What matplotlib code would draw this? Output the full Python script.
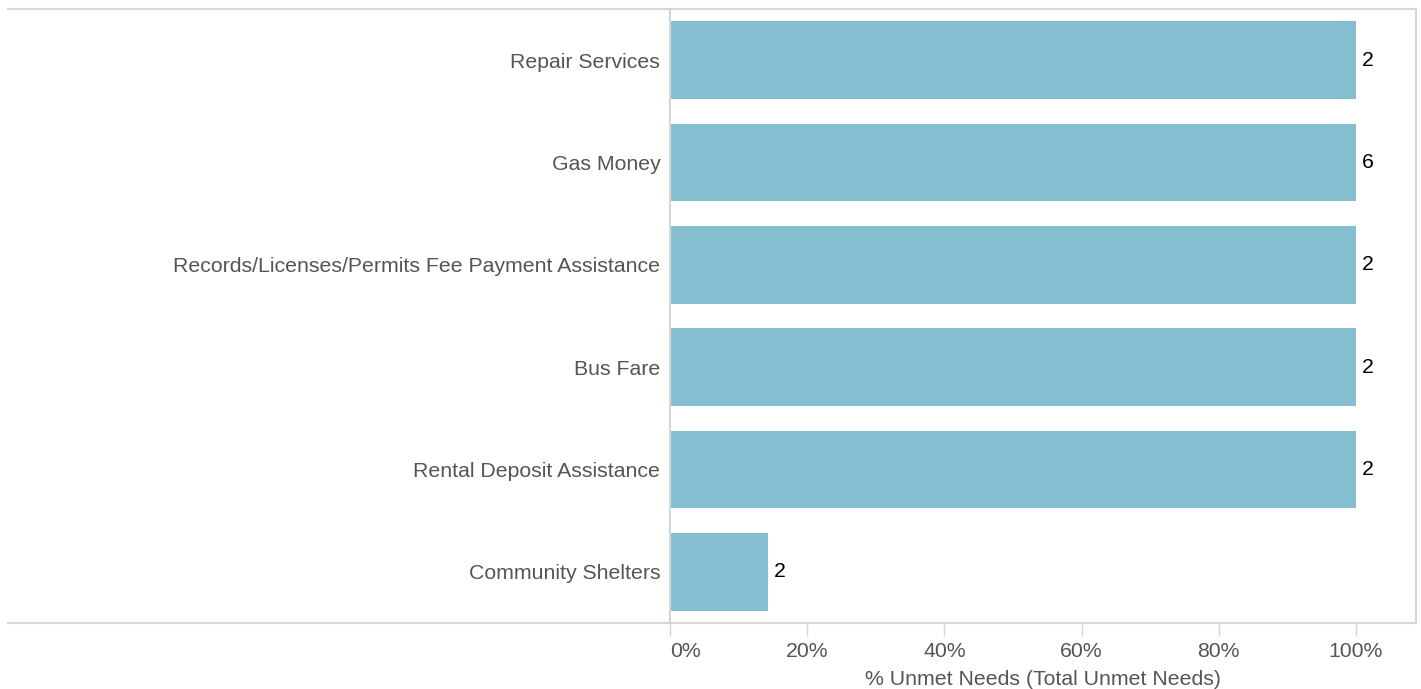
import matplotlib
matplotlib.use("Agg")
from matplotlib import pyplot
from matplotlib.lines import Line2D
from matplotlib.ticker import FuncFormatter


categories = [
    "Repair Services",
    "Gas Money",
    "Records/Licenses/Permits Fee Payment Assistance",
    "Bus Fare",
    "Rental Deposit Assistance",
    "Community Shelters",
]
unmet_share = [1.0, 1.0, 1.0, 1.0, 1.0, 1 / 7]
unmet_total = [2, 6, 2, 2, 2, 2]
xticks = [0.0, 0.2, 0.4, 0.6, 0.8, 1.0]


def main():
    barcolor = "#85bed0"
    linecolor = "#d6d6d6"
    textcolor = "#555555"
    fontsize = 15.3

    pyplot.rcParams["font.family"] = ["Liberation Sans", "DejaVu Sans"]

    W, H = 1421, 689
    fig = pyplot.figure(figsize=(W / 100, H / 100), dpi=100)
    left, right, top, bottom = 670, 1416, 9, 623
    ax = fig.add_axes([left / W, 1 - bottom / H, (right - left) / W, (bottom - top) / H])

    ypos = list(range(len(categories)))
    ax.barh(ypos, unmet_share, height=0.76, color=barcolor, zorder=2)
    for y, share, n in zip(ypos, unmet_share, unmet_total):
        ax.annotate(str(n), (share, y), xytext=(4.5, 0), textcoords="offset points",
                    va="center", ha="left", fontsize=fontsize, color="black")

    ax.set_xlim(0, 1.0875)
    ax.set_ylim(len(categories) - 0.5, -0.5)
    ax.set_yticks(ypos)
    ax.set_yticklabels(categories)
    ax.set_xticks(xticks)
    ax.xaxis.set_major_formatter(FuncFormatter(lambda v, p: f"{v * 100:.0f}%"))

    ax.tick_params(axis="y", length=0, pad=7, labelsize=fontsize, labelcolor=textcolor)
    ax.tick_params(axis="x", length=9, width=1.0, color=linecolor, pad=5,
                   labelsize=fontsize, labelcolor=textcolor)
    # first tick label sits to the right of its tick
    fig.canvas.draw()
    first = ax.get_xticklabels()[0]
    first.set_horizontalalignment("left")
    first.set_x(0.004)

    for side in ["left", "bottom", "right", "top"]:
        ax.spines[side].set_color(linecolor)
        ax.spines[side].set_linewidth(1.5)

    # frame lines extending to the left over the label column
    for yy in (top, bottom):
        fig.add_artist(Line2D([8 / W, left / W], [1 - yy / H, 1 - yy / H],
                              color=linecolor, linewidth=1.5, transform=fig.transFigure))

    ax.set_xlabel("% Unmet Needs (Total Unmet Needs)", fontsize=fontsize,
                  color=textcolor, labelpad=6.5)

    fig.savefig("out.png", dpi=100)
    pyplot.close(fig)


if __name__ == "__main__":
    main()
